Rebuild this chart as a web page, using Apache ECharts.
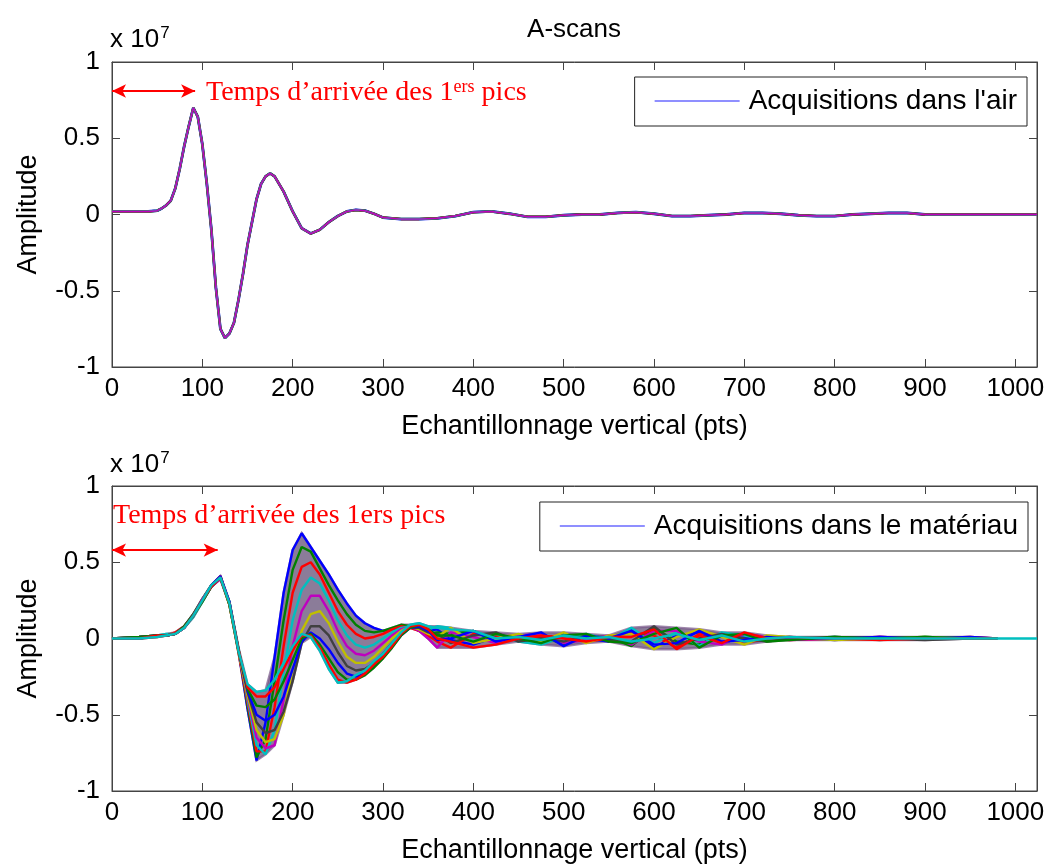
<!DOCTYPE html>
<html>
<head>
<meta charset="utf-8">
<title>A-scans</title>
<script src="https://cdn.jsdelivr.net/npm/echarts@6/dist/echarts.min.js"></script>
<style>
  html, body { margin: 0; padding: 0; background: #fff; }
  #chart { width: 1050px; height: 865px; }
</style>
</head>
<body>
<div id="chart"></div>
<script>
// --- top subplot: acquisitions in air (amplitude x 1e7) ---
const xAir = [0, 20, 40, 50, 55, 60, 65, 70, 75, 80, 85, 90, 95, 100, 105, 110, 115, 120, 125, 130,
  135, 140, 145, 150, 155, 160, 165, 170, 175, 180, 190, 200, 210, 220, 230, 240, 250, 260, 270, 280,
  290, 300, 320, 340, 360, 380, 400, 420, 440, 460, 480, 500, 520, 540, 560, 580, 600, 620, 640, 660,
  680, 700, 720, 740, 760, 780, 800, 820, 840, 860, 880, 900, 950, 1024]
const airTrace = [0.02, 0.02, 0.02, 0.025, 0.04, 0.06, 0.09, 0.17, 0.30, 0.45, 0.58, 0.70, 0.64, 0.46, 0.20, -0.10, -0.48, -0.75, -0.81, -0.78,
  -0.71, -0.56, -0.39, -0.20, -0.05, 0.10, 0.20, 0.25, 0.27, 0.25, 0.15, 0.02, -0.09, -0.125, -0.10, -0.05, -0.01, 0.02, 0.03, 0.025,
  0.005, -0.02, -0.03, -0.03, -0.025, -0.01, 0.015, 0.02, 0.005, -0.015, -0.015, -0.005, 0, 0, 0.01, 0.015, 0.005, -0.01, -0.01, -0.005,
  0, 0.01, 0.01, 0.005, -0.005, -0.01, -0.01, 0, 0.005, 0.01, 0.01, 0, 0, 0]

// --- bottom subplot: acquisitions in the material ---
const xMat = [0, 30, 50, 60, 70, 80, 90, 100, 110, 120, 130, 140,
  150, 160, 170, 180, 190, 200, 210, 220, 230, 240, 250, 260, 270, 280, 290, 300, 310, 320, 330, 340, 350,
  360, 375, 400, 425, 450, 475, 500, 525, 550, 575, 600, 625, 650, 675, 700, 725, 750, 800, 850, 900, 950, 980, 1024]

const mat00 = [0, 0, 0.02, 0.02, 0.03, 0.07, 0.15, 0.25, 0.34, 0.40, 0.23, -0.08,
  -0.46, -0.80, -0.55, -0.12, 0.30, 0.58, 0.69, 0.60, 0.51, 0.42, 0.32, 0.23, 0.15, 0.10, 0.07, 0.05, 0.06, 0.08, 0.08, 0.06, 0.05,
  0.06, -0.01, -0.04, 0.01, 0.02, -0.03, 0.03, 0.00, -0.02, 0.06, -0.06, 0.02, 0.04, -0.03, 0.01, 0.00, 0.01, -0.01, 0.01, 0.00, 0.00, 0.00, null]
const mat01 = [0, 0.01, 0.02, 0.02, 0.03, 0.08, 0.16, 0.26, 0.35, 0.40, 0.24, -0.07,
  -0.44, -0.78, -0.66, -0.28, 0.12, 0.45, 0.60, 0.57, 0.46, 0.35, 0.25, 0.16, 0.09, 0.05, 0.04, 0.05, 0.07, 0.09, 0.08, 0.05, 0.03,
  0.04, 0.03, 0.05, -0.02, 0.00, 0.02, -0.04, 0.01, 0.01, -0.05, 0.07, -0.02, -0.04, 0.03, -0.01, 0.01, 0.00, 0.01, 0.00, 0.01, 0.00, 0.00, null]
const mat02 = [0, 0, 0.01, 0.02, 0.04, 0.08, 0.15, 0.25, 0.35, 0.41, 0.22, -0.09,
  -0.42, -0.74, -0.74, -0.45, -0.05, 0.30, 0.47, 0.50, 0.42, 0.30, 0.18, 0.09, 0.03, 0.00, 0.01, 0.03, 0.06, 0.08, 0.07, 0.05, 0.02,
  -0.02, -0.06, 0.03, 0.02, -0.01, 0.01, 0.02, -0.02, 0.00, 0.04, 0.02, -0.06, 0.03, 0.02, -0.03, 0.00, -0.01, 0.00, 0.01, 0.00, 0.01, 0.00, null]
const mat03 = [0, 0, 0.02, 0.03, 0.03, 0.07, 0.14, 0.24, 0.34, 0.40, 0.24, -0.06,
  -0.40, -0.70, -0.76, -0.60, -0.22, 0.12, 0.32, 0.40, 0.36, 0.25, 0.12, 0.02, -0.04, -0.06, -0.04, 0.00, 0.04, 0.07, 0.08, 0.07, 0.06,
  0.08, 0.07, -0.02, 0.03, -0.02, -0.04, 0.01, 0.03, -0.01, 0.07, -0.03, 0.04, -0.05, 0.04, 0.02, -0.01, 0.00, 0.01, -0.01, 0.01, 0.00, 0.00, null]
const mat04 = [0, 0.01, 0.02, 0.02, 0.03, 0.08, 0.15, 0.26, 0.34, 0.39, 0.23, -0.08,
  -0.38, -0.65, -0.72, -0.70, -0.40, -0.05, 0.18, 0.28, 0.28, 0.18, 0.05, -0.05, -0.10, -0.11, -0.08, -0.03, 0.02, 0.06, 0.08, 0.05, 0.00,
  -0.06, 0.04, 0.01, -0.03, 0.02, 0.03, -0.03, -0.01, 0.02, -0.04, 0.05, 0.05, -0.02, -0.04, 0.03, 0.01, -0.01, 0.00, 0.01, 0.00, 0.00, 0.00, null]
const mat05 = [0, 0, 0.02, 0.02, 0.03, 0.07, 0.15, 0.25, 0.35, 0.40, 0.22, -0.09,
  -0.37, -0.60, -0.68, -0.66, -0.50, -0.20, 0.05, 0.16, 0.18, 0.10, -0.02, -0.12, -0.16, -0.16, -0.12, -0.06, 0.00, 0.05, 0.08, 0.06, 0.03,
  0.01, 0.07, -0.03, 0.00, 0.03, -0.02, 0.04, -0.03, 0.02, 0.03, -0.07, 0.01, 0.06, 0.01, -0.04, 0.02, 0.01, -0.01, 0.00, 0.01, 0.00, 0.00, null]
const mat06 = [0, 0.01, 0.02, 0.02, 0.03, 0.08, 0.16, 0.25, 0.34, 0.40, 0.23, -0.07,
  -0.35, -0.55, -0.62, -0.60, -0.48, -0.28, -0.03, 0.08, 0.08, 0.02, -0.09, -0.18, -0.21, -0.20, -0.16, -0.10, -0.03, 0.03, 0.07, 0.07, 0.04,
  0.03, -0.03, 0.02, 0.04, -0.02, 0.00, -0.02, 0.02, -0.01, -0.02, 0.08, -0.04, 0.00, 0.03, 0.00, -0.02, 0.00, 0.01, 0.00, -0.01, 0.00, 0.00, null]
const mat07 = [0, 0, 0.02, 0.02, 0.03, 0.07, 0.15, 0.25, 0.35, 0.41, 0.24, -0.08,
  -0.34, -0.50, -0.54, -0.50, -0.38, -0.20, -0.02, 0.04, 0.00, -0.07, -0.16, -0.23, -0.25, -0.23, -0.18, -0.12, -0.05, 0.02, 0.07, 0.08, 0.05,
  -0.01, 0.00, 0.05, -0.02, 0.01, 0.04, -0.05, 0.02, 0.00, 0.05, -0.04, -0.03, 0.05, -0.02, -0.01, 0.01, 0.00, 0.00, 0.01, 0.00, 0.01, 0.00, null]
const mat08 = [0, 0.01, 0.02, 0.02, 0.03, 0.08, 0.15, 0.24, 0.34, 0.40, 0.22, -0.08,
  -0.33, -0.44, -0.45, -0.40, -0.28, -0.14, 0.00, 0.03, -0.04, -0.13, -0.22, -0.27, -0.27, -0.24, -0.19, -0.13, -0.06, 0.02, 0.07, 0.09, 0.06,
  0.02, 0.02, -0.02, 0.03, 0.00, -0.03, 0.02, 0.03, -0.02, -0.03, 0.03, 0.07, -0.06, 0.02, 0.03, -0.02, -0.01, 0.01, 0.00, 0.01, 0.00, 0.00, null]
const mat09 = [0, 0, 0.02, 0.02, 0.03, 0.07, 0.15, 0.25, 0.34, 0.40, 0.23, -0.07,
  -0.32, -0.38, -0.38, -0.32, -0.20, -0.08, 0.02, 0.02, -0.06, -0.17, -0.27, -0.29, -0.27, -0.23, -0.17, -0.12, -0.05, 0.03, 0.08, 0.09, 0.06,
  0.00, -0.02, -0.06, -0.04, 0.00, 0.02, 0.00, -0.02, 0.01, 0.01, 0.06, -0.07, 0.02, -0.03, 0.04, 0.00, 0.01, 0.00, -0.01, 0.00, 0.00, 0.00, null]
const mat10 = [0, 0, 0.01, 0.02, 0.03, 0.07, 0.15, 0.25, 0.35, 0.40, 0.23, -0.08,
  -0.30, -0.35, -0.34, -0.27, -0.16, -0.05, 0.03, 0.01, -0.08, -0.20, -0.29, -0.28, -0.24, -0.21, -0.15, -0.10, -0.03, 0.04, 0.09, 0.10, 0.08,
  0.07, 0.06, 0.05, 0.00, 0.01, -0.01, 0.02, 0.00, 0.01, -0.02, 0.00, 0.03, -0.01, 0.02, -0.02, 0.00, 0.01, 0.00, 0.00, 0.00, 0.00, 0.00, 0.00]
const matTraces = [mat00, mat01, mat02, mat03, mat04, mat05, mat06, mat07, mat08, mat09, mat10]

const yTicks = [-1, -0.5, 0, 0.5, 1]
const airLegend = "Acquisitions dans l'air"
const matLegend = 'Acquisitions dans le matériau'
const arrivalLabel = 'Temps d’arrivée des 1'

// old MATLAB line colour order
const matlabColors = ['#0000ff', '#008000', '#ff0000', '#00bfbf', '#bf00bf', '#bfbf00', '#404040']

const SANS = "'Liberation Sans', Arial, sans-serif"
const SERIF = "'Liberation Serif', 'Times New Roman', serif"
const AXIS_COLOR = '#444'

const chart = echarts.init(document.getElementById('chart'), null, { renderer: 'canvas' })

const pairs = (xs, ys) => xs.map((x, i) => [x, ys[i]])

const xAxisFor = (gridIndex, bottom) => ({
  type: 'value', gridIndex, min: 0, max: 1024, interval: 100,
  position: bottom ? 'bottom' : 'top',
  axisLine: { show: true, onZero: false, lineStyle: { color: AXIS_COLOR, width: 1 } },
  axisTick: { show: true, inside: true, length: 8, lineStyle: { color: AXIS_COLOR } },
  axisLabel: bottom
    ? { show: true, color: '#000', fontSize: 26, fontFamily: SANS, margin: 9, showMaxLabel: false,
        formatter: v => (v % 100 === 0 ? String(v) : '') }
    : { show: false },
  splitLine: { show: false },
  name: bottom ? 'Echantillonnage vertical (pts)' : '',
  nameLocation: 'middle', nameGap: 46,
  nameTextStyle: { color: '#000', fontSize: 27, fontFamily: SANS }
})

const yAxisFor = (gridIndex, left) => ({
  type: 'value', gridIndex, min: -1, max: 1, interval: 0.5,
  position: left ? 'left' : 'right',
  axisLine: { show: true, onZero: false, lineStyle: { color: AXIS_COLOR, width: 1 } },
  axisTick: { show: true, inside: true, length: 8, lineStyle: { color: AXIS_COLOR } },
  axisLabel: left
    ? { show: true, color: '#000', fontSize: 26, fontFamily: SANS, margin: 12,
        formatter: v => (yTicks.includes(v) ? String(v) : '') }
    : { show: false },
  splitLine: { show: false },
  name: left ? 'Amplitude' : '',
  nameLocation: 'middle', nameGap: 70,
  nameTextStyle: { color: '#000', fontSize: 27, fontFamily: SANS }
})

// top subplot: the same acquisition overdrawn in several colours (last one on top)
const airSeries = ['#0000ff', '#008000', '#ff0000', '#00bfbf', '#bf00bf'].map((c, i) => ({
  type: 'line', name: i === 0 ? airLegend : 'air' + i,
  xAxisIndex: 0, yAxisIndex: 0,
  data: pairs(xAir, airTrace),
  symbol: 'none', z: 3 + i,
  lineStyle: { color: c, width: 2.8 - i * 0.35 },
  itemStyle: { color: c },
  markLine: i === 0 ? {
    silent: true, symbol: ['arrow', 'arrow'], symbolSize: [10, 14],
    lineStyle: { color: '#ff0000', width: 2, type: 'solid' },
    label: { show: false },
    data: [[{ coord: [0, 0.81] }, { coord: [92, 0.81] }]]
  } : undefined
}))

// envelope of the material acquisitions (min / max over the traces), drawn under them
const lastBand = xMat.indexOf(980)
const xBand = xMat.slice(0, lastBand + 1)
const bandLow = xBand.map((x, i) => Math.min(...matTraces.map(t => t[i])))
const bandHigh = xBand.map((x, i) => Math.max(...matTraces.map(t => t[i])))
const bandSeries = {
  type: 'custom', name: 'band', xAxisIndex: 2, yAxisIndex: 2, z: 1, silent: true,
  data: [[0, 0]],
  renderItem: (params, api) => {
    const upper = xBand.map((x, i) => api.coord([x, bandHigh[i]]))
    const lower = xBand.map((x, i) => api.coord([x, bandLow[i]])).reverse()
    return {
      type: 'polygon',
      shape: { points: upper.concat(lower) },
      style: { fill: '#5e4a72', opacity: 0.72, stroke: '#7a5a8a', lineWidth: 2.5 }
    }
  }
}

const matSeries = matTraces.map((t, i) => ({
  type: 'line', name: i === 0 ? matLegend : 'mat' + i,
  xAxisIndex: 2, yAxisIndex: 2,
  data: pairs(xMat, t),
  symbol: 'none', connectNulls: false, z: 3 + i,
  lineStyle: { color: matlabColors[i % 7], width: 2.4 },
  itemStyle: { color: matlabColors[i % 7] },
  markLine: i === 0 ? {
    silent: true, symbol: ['arrow', 'arrow'], symbolSize: [10, 14],
    lineStyle: { color: '#ff0000', width: 2, type: 'solid' },
    label: { show: false },
    data: [[{ coord: [0, 0.58] }, { coord: [117, 0.58] }]]
  } : undefined
}))

const legendFor = (name, top, right) => ({
  show: true,
  data: [name], top, right,
  orient: 'horizontal',
  padding: [10, 10, 11, 20],
  icon: 'rect',
  itemWidth: 85, itemHeight: 1.5,
  itemStyle: { color: '#6a6aff', borderWidth: 0 },
  borderColor: '#222', borderWidth: 1, backgroundColor: '#fff',
  textStyle: { color: '#000', fontSize: 28, fontFamily: SANS, padding: [0, 0, 0, 4] },
  selectedMode: false, z: 20
})

const option = {
  backgroundColor: '#fff',
  animation: false,
  grid: [
    { left: 112, right: 13, top: 62, height: 305, show: true, borderColor: AXIS_COLOR, borderWidth: 1 },
    { left: 112, right: 13, top: 486, height: 305, show: true, borderColor: AXIS_COLOR, borderWidth: 1 }
  ],
  xAxis: [xAxisFor(0, true), xAxisFor(0, false), xAxisFor(1, true), xAxisFor(1, false)],
  yAxis: [yAxisFor(0, true), yAxisFor(0, false), yAxisFor(1, true), yAxisFor(1, false)],
  legend: [legendFor(airLegend, 77, 23), legendFor(matLegend, 502, 22)],
  graphic: [
    { type: 'text', x: 574, y: 30, z: 100,
      style: { text: 'A-scans', fill: '#000', font: '26px ' + SANS, textAlign: 'center', textVerticalAlign: 'middle' } },
    { type: 'text', x: 110, y: 40, z: 100,
      style: { text: 'x 10{s|7}', fill: '#000', font: '26px ' + SANS, textAlign: 'left', textVerticalAlign: 'middle',
        rich: { s: { fontSize: 17, fontFamily: SANS, fill: '#000', verticalAlign: 'top', padding: [0, 0, 14, 1] } } } },
    { type: 'text', x: 110, y: 465, z: 100,
      style: { text: 'x 10{s|7}', fill: '#000', font: '26px ' + SANS, textAlign: 'left', textVerticalAlign: 'middle',
        rich: { s: { fontSize: 17, fontFamily: SANS, fill: '#000', verticalAlign: 'top', padding: [0, 0, 14, 1] } } } },
    { type: 'text', x: 206, y: 93, z: 100,
      style: { text: arrivalLabel + '{s|ers} pics', fill: '#ff0000', font: '28px ' + SERIF, textAlign: 'left', textVerticalAlign: 'middle',
        rich: { s: { fontSize: 18, fontFamily: SERIF, fill: '#ff0000', verticalAlign: 'top', padding: [0, 0, 12, 0] } } } },
    { type: 'text', x: 113, y: 516, z: 100,
      style: { text: arrivalLabel + 'ers pics', fill: '#ff0000', font: '28px ' + SERIF, textAlign: 'left', textVerticalAlign: 'middle' } }
  ],
  series: [...airSeries, bandSeries, ...matSeries]
}

chart.setOption(option)
window.addEventListener('resize', () => chart.resize())
</script>
</body>
</html>
